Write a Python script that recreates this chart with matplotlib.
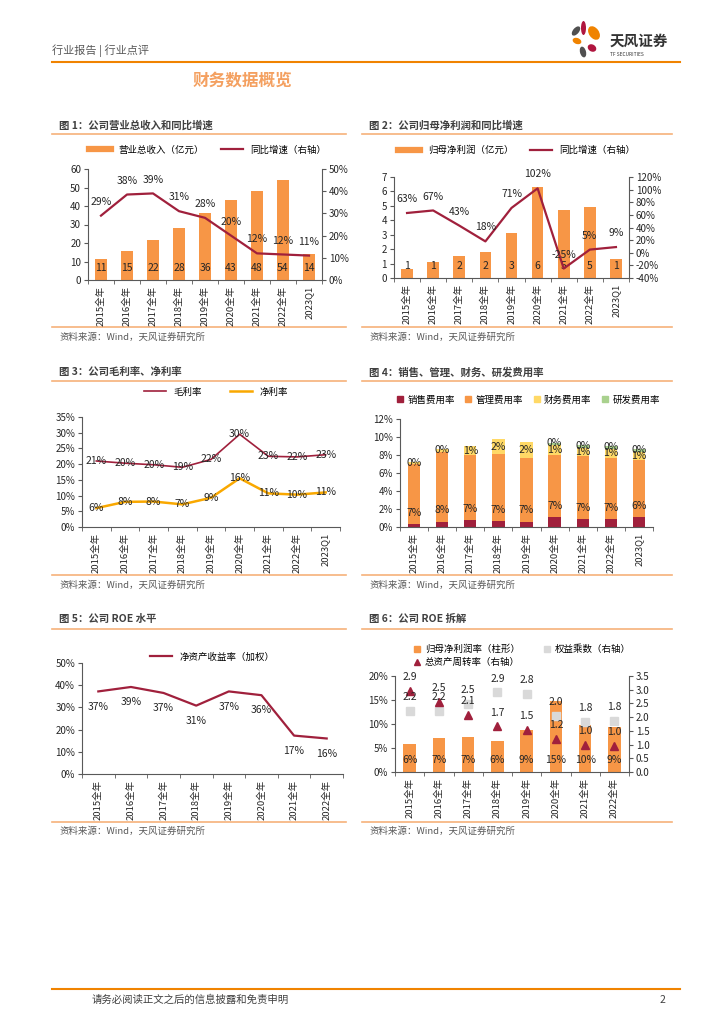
import numpy as np
import matplotlib
matplotlib.use('Agg')
import matplotlib.pyplot as plt
from matplotlib.patches import Ellipse
from matplotlib.lines import Line2D
from matplotlib.ticker import FuncFormatter

plt.rcParams['font.family'] = ['Noto Sans CJK SC', 'DejaVu Sans']
plt.rcParams['axes.unicode_minus'] = False

W, H = 724, 1024

# ---- data ----
years9 = ['2015全年', '2016全年', '2017全年', '2018全年', '2019全年',
          '2020全年', '2021全年', '2022全年', '2023Q1']
years8 = years9[:8]

# fig 1
rev = [11.2, 15.5, 21.5, 28.0, 36.0, 43.0, 48.3, 54.0, 14.3]
rev_lbl = [11, 15, 22, 28, 36, 43, 48, 54, 14]
rev_yoy = [29, 38.5, 39, 31, 28, 20, 12, 11.5, 11]
rev_yoy_lbl = [29, 38, 39, 31, 28, 20, 12, 12, 11]

# fig 2
np_val = [0.6, 1.1, 1.55, 1.8, 3.1, 6.3, 4.7, 4.95, 1.35]
np_lbl = [1, 1, 2, 2, 3, 6, 5, 5, 1]
np_yoy = [63, 67, 43, 18, 71, 102, -25, 5, 9]

# fig 3
gross = [21, 20.3, 19.8, 19, 21.5, 29.5, 22.5, 22.3, 23]
gross_lbl = [21, 20, 20, 19, 22, 30, 23, 22, 23]
net = [6, 8, 8.1, 7.2, 9.3, 15.5, 10.7, 10.3, 11]
net_lbl = [6, 8, 8, 7, 9, 16, 11, 10, 11]

# fig 4
sell = [0.33, 0.6, 0.74, 0.7, 0.6, 1.07, 0.93, 0.85, 1.1]
admin = [6.7, 7.73, 7.22, 7.37, 7.1, 6.97, 6.92, 6.85, 6.3]
admin_lbl = [7, 8, 7, 7, 7, 7, 7, 7, 6]
fin = [0.15, 0.35, 1.0, 1.67, 1.74, 1.03, 0.95, 1.0, 0.93]
fin_lbl = [0, 0, 1, 2, 2, 1, 1, 1, 1]
rd = [0, 0, 0, 0, 0, 0.26, 0.27, 0.26, 0.3]
rd_lbl = [None, None, None, None, None, 0, 0, 0, 0]
cost_names = ['销售费用率', '管理费用率', '财务费用率', '研发费用率']

# fig 5
roe = [37.2, 39.2, 36.5, 30.8, 37.2, 35.5, 17.3, 16]
roe_lbl = [37, 39, 37, 31, 37, 36, 17, 16]

# fig 6
npm = [5.8, 7.0, 7.2, 6.5, 8.8, 14.8, 9.8, 9.3]
npm_lbl = [6, 7, 7, 6, 9, 15, 10, 9]
eqm = [2.22, 2.22, 2.49, 2.9, 2.86, 2.05, 1.82, 1.85]
eqm_lbl = ['2.2', '2.2', '2.5', '2.9', '2.8', '2.0', '1.8', '1.8']
turn = [2.95, 2.55, 2.07, 1.66, 1.52, 1.21, 0.98, 0.96]
turn_lbl = ['2.9', '2.5', '2.1', '1.7', '1.5', '1.2', '1.0', '1.0']

# ---- colours ----
ORANGE = '#F79646'
RED = '#A0203C'
GOLD = '#F9A800'
YELLOW = '#FFD966'
GREEN = '#A9D18E'
GREY = '#D9D9D9'
RULE = '#F6B27A'
AXC = '#595959'
TXT = '#262626'

pct = FuncFormatter(lambda v, p: f'{v:.0f}%')

fig = plt.figure(figsize=(W / 100, H / 100), dpi=100)
bg = fig.add_axes([0, 0, 1, 1])
bg.set_xlim(0, W)
bg.set_ylim(H, 0)
bg.axis('off')


def px_axes(x0, y0, x1, y1):
    return fig.add_axes([x0 / W, 1 - y1 / H, (x1 - x0) / W, (y1 - y0) / H])


def style(ax, labels):
    n = len(labels)
    ax.set_xlim(-0.5, n - 0.5)
    ax.set_xticks(range(n))
    ax.set_xticklabels(labels, rotation=90, fontsize=6.8, color=TXT)
    ax.set_xticks(np.arange(-0.5, n), minor=True)
    ax.tick_params(axis='x', which='major', length=0, pad=4)
    ax.tick_params(axis='x', which='minor', length=3, color=AXC)
    ax.tick_params(axis='y', length=3, labelsize=7, color=AXC, labelcolor=TXT, pad=2)
    ax.spines['top'].set_visible(False)
    ax.spines['right'].set_visible(False)
    for s in ['left', 'bottom']:
        ax.spines[s].set_color(AXC)
        ax.spines[s].set_linewidth(0.8)
    ax.set_facecolor('none')


def style_right(ax2):
    for s in ['top', 'left', 'bottom']:
        ax2.spines[s].set_visible(False)
    ax2.spines['right'].set_color(AXC)
    ax2.spines['right'].set_linewidth(0.8)
    ax2.tick_params(axis='y', length=3, labelsize=7, color=AXC, labelcolor=TXT, pad=2)


def frame(x0, x1, title, ytitle, yrule_top, yrule_bot, ysrc):
    bg.text(x0 + 7, ytitle, title, fontsize=7.5, fontweight='bold', color='#404040',
            va='center', ha='left')
    bg.plot([x0, x1], [yrule_top, yrule_top], color=RULE, lw=1.2)
    bg.plot([x0, x1], [yrule_bot, yrule_bot], color=RULE, lw=1.2)
    bg.text(x0 + 7, ysrc, '资料来源：Wind，天风证券研究所', fontsize=6.8, color='#595959',
            va='center', ha='left')


def legend(ax, handles, labels, cx, cy, ncol, **kw):
    opts = dict(fontsize=6.8, handlelength=2.3, columnspacing=1.8, handletextpad=0.8)
    opts.update(kw)
    ax.legend(handles, labels, loc='center', bbox_to_anchor=(cx / W, 1 - cy / H),
              bbox_transform=fig.transFigure, ncol=ncol, frameon=False, **opts)


# ---- header / footer ----
bg.text(52, 51, '行业报告 | 行业点评', fontsize=8, color='#595959', va='center', ha='left')
bg.plot([52, 680], [62, 62], color='#F08300', lw=1.5)
bg.text(242, 80, '财务数据概览', fontsize=12, fontweight='bold', color='#F4A060',
        va='center', ha='center')
bg.plot([52, 680], [989, 989], color='#F08300', lw=1.5)
bg.text(92, 1000, '请务必阅读正文之后的信息披露和免责申明', fontsize=7.5, color='#404040',
        va='center', ha='left')
bg.text(662, 1000, '2', fontsize=7.5, color='#404040', va='center', ha='center')

# logo petals
petals = [((576, 31), 6, 11, 40, '#505050'),
          ((583.5, 28), 5, 14, 0, '#B0163F'),
          ((594, 33), 10, 15, -35, '#F08300'),
          ((577, 41), 9, 6, 20, '#F08300'),
          ((592, 48), 9, 7, 30, '#B0163F'),
          ((583, 52), 6, 11, -15, '#505050')]
for (cx, cy), w, h, ang, c in petals:
    bg.add_patch(Ellipse((cx, cy), w, h, angle=ang, color=c, lw=0))
bg.text(610, 41, '天风证券', fontsize=10.5, fontweight='bold', color='#333333', va='center', ha='left')
bg.text(610, 55, 'TF SECURITIES', fontsize=3.5, color='#333333', va='center', ha='left')

# ---- fig 1 ----
frame(52, 346, '图 1：公司营业总收入和同比增速', 125, 134, 327, 337)
x = np.arange(len(years9))
ax = px_axes(88, 169, 322, 280)
ax.bar(x, rev, width=0.45, color=ORANGE, zorder=2)
for i, v in enumerate(rev_lbl):
    ax.text(i, 6.3, str(v), ha='center', va='center', fontsize=7.5, color=TXT, zorder=3)
ax.set_ylim(0, 60)
ax.set_yticks(range(0, 61, 10))
style(ax, years9)
ax2 = ax.twinx()
ax2.plot(x, rev_yoy, color=RED, lw=1.6)
for i, v in enumerate(rev_yoy):
    ax2.annotate(f'{rev_yoy_lbl[i]}%', (i, v), xytext=(0, 10), textcoords='offset points',
                 ha='center', va='center', fontsize=7.5, color=TXT)
ax2.set_ylim(0, 50)
ax2.set_yticks(range(0, 51, 10))
ax2.yaxis.set_major_formatter(pct)
style_right(ax2)
legend(ax2, [Line2D([], [], color=ORANGE, lw=4.5), Line2D([], [], color=RED, lw=1.6)],
       ['营业总收入（亿元）', '同比增速（右轴）'], 208, 150, 2)

# ---- fig 2 ----
frame(362, 672, '图 2：公司归母净利润和同比增速', 125, 134, 327, 337)
ax = px_axes(394, 177, 629, 278)
ax.bar(x, np_val, width=0.45, color=ORANGE, zorder=2)
for i, v in enumerate(np_lbl):
    ax.text(i, 0.8, str(v), ha='center', va='center', fontsize=7.5, color=TXT, zorder=3)
ax.set_ylim(0, 7)
ax.set_yticks(range(0, 8))
style(ax, years9)
ax2 = ax.twinx()
ax2.plot(x, np_yoy, color=RED, lw=1.6)
for i, v in enumerate(np_yoy):
    ax2.annotate(f'{v}%', (i, v), xytext=(0, 10), textcoords='offset points',
                 ha='center', va='center', fontsize=7.5, color=TXT)
ax2.set_ylim(-40, 120)
ax2.set_yticks(range(-40, 121, 20))
ax2.yaxis.set_major_formatter(pct)
style_right(ax2)
legend(ax2, [Line2D([], [], color=ORANGE, lw=4.5), Line2D([], [], color=RED, lw=1.6)],
       ['归母净利润（亿元）', '同比增速（右轴）'], 517, 150, 2)

# ---- fig 3 ----
frame(52, 346, '图 3：公司毛利率、净利率', 372, 381, 575, 585)
ax = px_axes(82, 417, 340, 527)
ax.plot(x, gross, color=RED, lw=1.2)
ax.plot(x, net, color=GOLD, lw=1.8)
for i in x:
    ax.text(i, gross[i], f'{gross_lbl[i]}%', ha='center', va='center', fontsize=7.5, color=TXT)
    ax.text(i, net[i], f'{net_lbl[i]}%', ha='center', va='center', fontsize=7.5, color=TXT)
ax.set_ylim(0, 35)
ax.set_yticks(range(0, 36, 5))
ax.yaxis.set_major_formatter(pct)
style(ax, years9)
legend(ax, [Line2D([], [], color=RED, lw=1.2), Line2D([], [], color=GOLD, lw=1.8)],
       ['毛利率', '净利率'], 216, 392, 2, columnspacing=3.0)

# ---- fig 4 ----
frame(362, 672, '图 4：销售、管理、财务、研发费用率', 372, 381, 575, 585)
ax = px_axes(400, 419, 653, 527)
sell_a = np.array(sell)
admin_a = np.array(admin)
fin_a = np.array(fin)
rd_a = np.array(rd)
ax.bar(x, sell_a, width=0.44, color=RED, zorder=2)
ax.bar(x, admin_a, width=0.44, bottom=sell_a, color=ORANGE, zorder=2)
ax.bar(x, fin_a, width=0.44, bottom=sell_a + admin_a, color=YELLOW, zorder=2)
ax.bar(x, rd_a, width=0.44, bottom=sell_a + admin_a + fin_a, color=GREEN, zorder=2)
for i in x:
    ax.annotate(f'{admin_lbl[i]}%', (i, sell_a[i]), xytext=(0, 8), textcoords='offset points',
                ha='center', va='center', fontsize=7.5, color=TXT, zorder=3)
    ax.text(i, sell_a[i] + admin_a[i] + fin_a[i] / 2, f'{fin_lbl[i]}%', ha='center',
            va='center', fontsize=7.5, color=TXT, zorder=3)
    if rd_lbl[i] is not None:
        ax.text(i, sell_a[i] + admin_a[i] + fin_a[i] + rd_a[i] / 2 + 0.1, f'{rd_lbl[i]}%',
                ha='center', va='center', fontsize=7.5, color=TXT, zorder=3)
ax.set_ylim(0, 12)
ax.set_yticks(range(0, 13, 2))
ax.yaxis.set_major_formatter(pct)
style(ax, years9)
sq = lambda c: Line2D([], [], color=c, marker='s', ls='none', markersize=4.5)
legend(ax, [sq(RED), sq(ORANGE), sq(YELLOW), sq(GREEN)], cost_names, 528, 400, 4,
       handlelength=0.8, columnspacing=1.0, handletextpad=0.4)

# ---- fig 5 ----
frame(52, 346, '图 5：公司 ROE 水平', 619, 629, 822, 831)
x8 = np.arange(len(years8))
ax = px_axes(82, 663, 343, 774)
ax.plot(x8, roe, color=RED, lw=1.6)
for i in x8:
    ax.annotate(f'{roe_lbl[i]}%', (i, roe[i]), xytext=(0, -11), textcoords='offset points',
                ha='center', va='center', fontsize=7.5, color=TXT)
ax.set_ylim(0, 50)
ax.set_yticks(range(0, 51, 10))
ax.yaxis.set_major_formatter(pct)
style(ax, years8)
legend(ax, [Line2D([], [], color=RED, lw=1.6)], ['净资产收益率（加权）'], 212, 657, 1)

# ---- fig 6 ----
frame(362, 672, '图 6：公司 ROE 拆解', 619, 629, 822, 831)
ax = px_axes(395, 676, 629, 772)
ax.bar(x8, npm, width=0.43, color=ORANGE, zorder=2)
for i in x8:
    ax.text(i, 2.4, f'{npm_lbl[i]}%', ha='center', va='center', fontsize=7.5, color=TXT, zorder=3)
ax.set_ylim(0, 20)
ax.set_yticks(range(0, 21, 5))
ax.yaxis.set_major_formatter(pct)
style(ax, years8)
ax2 = ax.twinx()
ax2.plot(x8, eqm, ls='none', marker='s', markersize=5.5, color=GREY)
ax2.plot(x8, turn, ls='none', marker='^', markersize=5.5, color=RED)
for i in x8:
    ax2.annotate(eqm_lbl[i], (i, eqm[i]), xytext=(0, 10), textcoords='offset points',
                 ha='center', va='center', fontsize=7.5, color=TXT)
    ax2.annotate(turn_lbl[i], (i, turn[i]), xytext=(0, 10), textcoords='offset points',
                 ha='center', va='center', fontsize=7.5, color=TXT)
ax2.set_ylim(0, 3.5)
ax2.set_yticks(np.arange(0, 3.51, 0.5))
ax2.yaxis.set_major_formatter(FuncFormatter(lambda v, p: f'{v:.1f}'))
style_right(ax2)
mk = lambda c, m: Line2D([], [], color=c, marker=m, ls='none', markersize=5)
ax2.legend([mk(ORANGE, 's'), mk(RED, '^'), mk(GREY, 's')],
           ['归母净利润率（柱形）', '总资产周转率（右轴）', '权益乘数（右轴）'],
           loc='upper left', bbox_to_anchor=(405 / W, 1 - 636 / H), bbox_transform=fig.transFigure,
           ncol=2, frameon=False, fontsize=6.8, handlelength=0.8, columnspacing=2.5,
           handletextpad=0.4, labelspacing=0.4)

fig.savefig('out.png', dpi=100)
